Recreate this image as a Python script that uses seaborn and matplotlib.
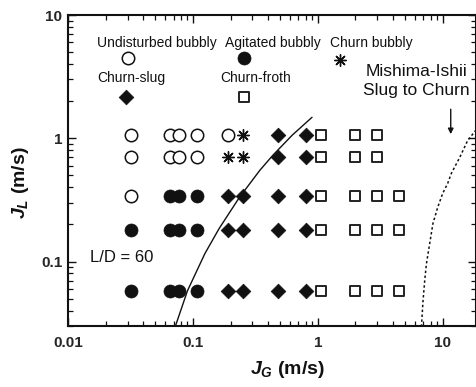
import matplotlib
matplotlib.use("Agg")
import matplotlib.pyplot as plt
import numpy as np
import pandas as pd
import seaborn as sns

# Superficial gas velocity columns and liquid velocity rows of the test matrix (m/s)
jg_cols = [0.032, 0.065, 0.077, 0.107, 0.19, 0.25, 0.48, 0.81, 1.06, 2.0, 3.0, 4.5]
jl_rows = [1.06, 0.70, 0.34, 0.18, 0.058]

# Observed regimes, one string per row (columns as in jg_cols, '-' = no run)
# U = undisturbed bubbly, A = agitated bubbly, B = churn bubbly, S = churn-slug, F = churn-froth
regime_rows = [
    "UUUUUBSSFFF-",
    "UUUUBBSSFFF-",
    "UAAASSSSFFFF",
    "AAAASSSSFFFF",
    "AAAASSSSFFFF",
]
regime_names = {
    "U": "Undisturbed bubbly",
    "A": "Agitated bubbly",
    "B": "Churn bubbly",
    "S": "Churn-slug",
    "F": "Churn-froth",
}

# Solid transition curve
curve_jg = [0.0718, 0.0905, 0.1247, 0.162, 0.2355, 0.3436, 0.4365, 0.624, 0.899]
curve_jl = [0.0292, 0.058, 0.116, 0.185, 0.331, 0.55, 0.728, 1.06, 1.48]

# Mishima-Ishii slug-to-churn boundary
mi_jg = [6.76, 6.96, 7.18, 7.41, 7.87, 8.36, 9.12, 10.0, 10.96, 11.74, 13.7, 15.85, 18.4]
mi_jl = [0.0296, 0.048, 0.070, 0.096, 0.14, 0.204, 0.275, 0.357, 0.43, 0.52, 0.70, 0.96, 1.16]

records = []
for jl, row in zip(jl_rows, regime_rows):
    for jg, code in zip(jg_cols, row):
        if code != "-":
            records.append({"JG": jg, "JL": jl, "regime": regime_names[code]})
df = pd.DataFrame(records)

sns.set_style("ticks")
plt.rcParams["font.family"] = ["Liberation Sans", "DejaVu Sans"]
plt.rcParams["mathtext.fontset"] = "custom"
plt.rcParams["mathtext.it"] = "Liberation Sans:italic:bold"
plt.rcParams["mathtext.rm"] = "Liberation Sans:bold"

ink = "#111111"
styles = {
    "Undisturbed bubbly": dict(marker="o", s=80, facecolor="white", edgecolor=ink, linewidth=1.1),
    "Agitated bubbly": dict(marker="o", s=88, facecolor=ink, edgecolor=ink, linewidth=0.5),
    "Churn bubbly": dict(marker=(8, 2, 0), s=70, facecolor=ink, edgecolor=ink, linewidth=1.0),
    "Churn-slug": dict(marker="D", s=56, facecolor=ink, edgecolor=ink, linewidth=0.5),
    "Churn-froth": dict(marker="s", s=62, facecolor="white", edgecolor="#222222", linewidth=1.4),
}

fig = plt.figure(figsize=(4.77, 3.87), dpi=100)
ax = fig.add_axes([0.1426, 0.1576, 0.8554, 0.8036])
ax.set_xscale("log")
ax.set_yscale("log")

for name, kw in styles.items():
    sub = df[df["regime"] == name]
    sns.scatterplot(data=sub, x="JG", y="JL", ax=ax, legend=False, zorder=3, **kw)

sns.lineplot(x=curve_jg, y=curve_jl, ax=ax, sort=False, estimator=None,
             color=ink, linewidth=1.0, zorder=2)
sns.lineplot(x=mi_jg, y=mi_jl, ax=ax, sort=False, estimator=None,
             color=ink, linewidth=1.1, linestyle=(0, (1.6, 1.6)), zorder=2)

ax.set_xlim(0.01, 18.5)
ax.set_ylim(0.03, 10)

# In-plot key: label above, marker below
key = [
    ("Undisturbed bubbly", 0.218, 0.910, 0.147, 0.862),
    ("Agitated bubbly", 0.502, 0.910, 0.431, 0.862),
    ("Churn bubbly", 0.743, 0.910, 0.667, 0.856),
    ("Churn-slug", 0.155, 0.798, 0.142, 0.737),
    ("Churn-froth", 0.461, 0.798, 0.431, 0.737),
]
for name, tx, ty, mx, my in key:
    ax.text(tx, ty, name, transform=ax.transAxes, ha="center", va="center",
            fontsize=10, color=ink)
    ax.scatter([mx], [my], transform=ax.transAxes, clip_on=False, zorder=4, **styles[name])

ax.text(0.853, 0.787, "Mishima-Ishii\nSlug to Churn", transform=ax.transAxes,
        ha="center", va="center", fontsize=12.5, color=ink, linespacing=1.3)
ax.annotate("", xy=(11.6, 1.08), xytext=(11.6, 1.72),
            arrowprops=dict(arrowstyle="-|>", color=ink, lw=1.0,
                            mutation_scale=8, shrinkA=0, shrinkB=0))
ax.text(0.054, 0.221, "L/D = 60", transform=ax.transAxes, ha="left", va="center",
        fontsize=12, color=ink)

ax.set_xticks([0.01, 0.1, 1, 10], labels=["0.01", "0.1", "1", "10"])
ax.set_yticks([0.1, 1, 10], labels=["0.1", "1", "10"])
ax.tick_params(which="both", direction="in", top=True, right=True, color=ink)
ax.tick_params(which="major", length=6, width=1.0, labelsize=11, pad=4)
ax.tick_params(axis="x", which="major", pad=7)
ax.tick_params(which="minor", length=3.5, width=0.9)
for lab in ax.get_xticklabels() + ax.get_yticklabels():
    lab.set_fontweight("bold")
for sp in ax.spines.values():
    sp.set_linewidth(1.5)
    sp.set_color(ink)

ax.set_xlabel("$J_G$ (m/s)", fontsize=14, fontweight="bold", color=ink)
ax.set_ylabel("$J_L$ (m/s)", fontsize=14, fontweight="bold", color=ink)
ax.xaxis.set_label_coords(0.539, -0.105)
ax.yaxis.set_label_coords(-0.09, 0.46)

fig.savefig("out.png", dpi=100)
